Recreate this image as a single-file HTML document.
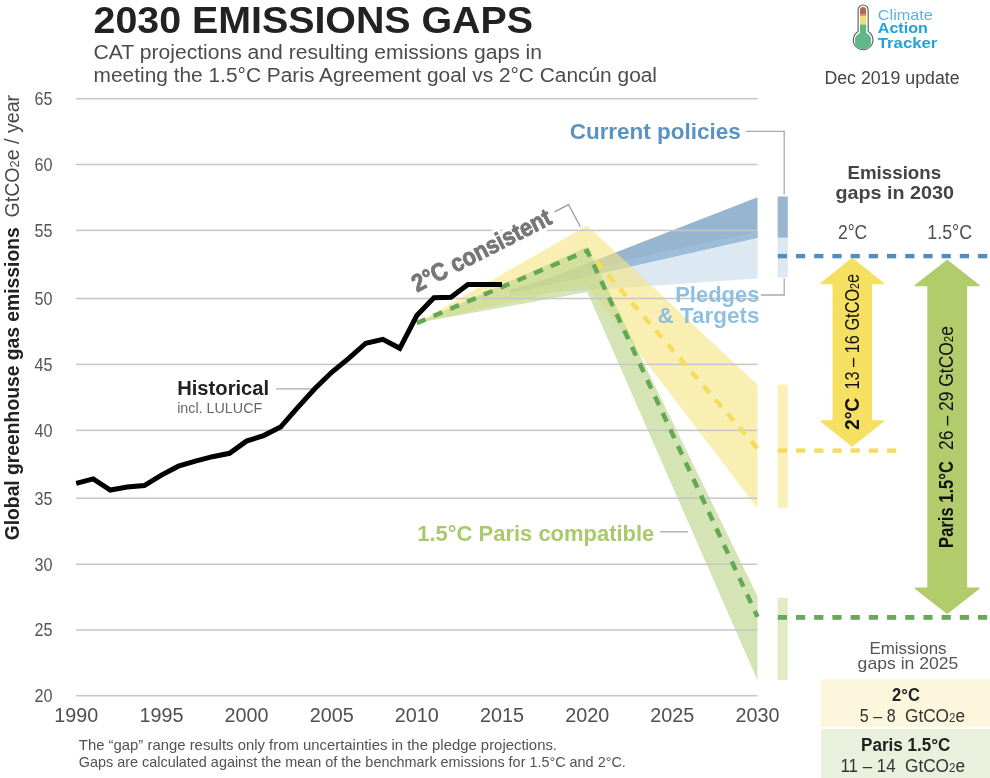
<!DOCTYPE html>
<html><head><meta charset="utf-8"><title>2030 Emissions Gaps</title>
<style>
html,body{margin:0;padding:0;background:#fff;}
body{width:990px;height:778px;overflow:hidden;}
svg{display:block;font-family:"Liberation Sans", sans-serif;will-change:transform;}
</style></head><body>
<svg width="990" height="778" viewBox="0 0 990 778">
<polygon points="510.0,290.0 550.0,278.0 757.5,197.2 757.5,238.0 550.0,285.0 510.0,293.0" fill="#98b5cf"/>
<polygon points="550.0,281.0 630.0,259.4 700.0,244.2 757.5,231.5 757.5,238.0 550.0,285.0" fill="#9cbdd9"/>
<polygon points="510.0,293.0 550.0,285.0 757.5,238.0 757.5,278.5 630.0,287.2 550.0,292.5 510.0,296.4" fill="#dce8f2"/>
<polygon points="416.8,323.1 587.2,225.6 757.5,384.8 757.5,508.2 587.2,285.1" fill="#f5e480" fill-opacity="0.6"/>
<polygon points="416.8,323.1 587.2,246.9 757.5,596.2 757.5,680.3 587.2,292.0" fill="#c0d68f" fill-opacity="0.67"/>
<rect x="76" y="97.95" width="681.5" height="1.5" fill="#c6c6c6"/>
<rect x="76" y="163.75" width="681.5" height="1.5" fill="#c6c6c6"/>
<rect x="76" y="229.65" width="681.5" height="1.5" fill="#c6c6c6"/>
<rect x="76" y="297.75" width="681.5" height="1.5" fill="#c6c6c6"/>
<rect x="76" y="363.65" width="681.5" height="1.5" fill="#c6c6c6"/>
<rect x="76" y="429.60" width="681.5" height="1.5" fill="#c6c6c6"/>
<rect x="76" y="497.45" width="681.5" height="1.5" fill="#c6c6c6"/>
<rect x="76" y="563.55" width="681.5" height="1.5" fill="#c6c6c6"/>
<rect x="76" y="629.25" width="681.5" height="1.5" fill="#c6c6c6"/>
<rect x="76" y="694.95" width="681.5" height="1.5" fill="#c6c6c6"/>
<text x="52.5" y="105.1" font-size="18" fill="#555" text-anchor="end" textLength="18" lengthAdjust="spacingAndGlyphs">65</text>
<text x="52.5" y="170.9" font-size="18" fill="#555" text-anchor="end" textLength="18" lengthAdjust="spacingAndGlyphs">60</text>
<text x="52.5" y="236.8" font-size="18" fill="#555" text-anchor="end" textLength="18" lengthAdjust="spacingAndGlyphs">55</text>
<text x="52.5" y="304.9" font-size="18" fill="#555" text-anchor="end" textLength="18" lengthAdjust="spacingAndGlyphs">50</text>
<text x="52.5" y="370.8" font-size="18" fill="#555" text-anchor="end" textLength="18" lengthAdjust="spacingAndGlyphs">45</text>
<text x="52.5" y="436.8" font-size="18" fill="#555" text-anchor="end" textLength="18" lengthAdjust="spacingAndGlyphs">40</text>
<text x="52.5" y="504.6" font-size="18" fill="#555" text-anchor="end" textLength="18" lengthAdjust="spacingAndGlyphs">35</text>
<text x="52.5" y="570.7" font-size="18" fill="#555" text-anchor="end" textLength="18" lengthAdjust="spacingAndGlyphs">30</text>
<text x="52.5" y="636.4" font-size="18" fill="#555" text-anchor="end" textLength="18" lengthAdjust="spacingAndGlyphs">25</text>
<text x="52.5" y="702.1" font-size="18" fill="#555" text-anchor="end" textLength="18" lengthAdjust="spacingAndGlyphs">20</text>
<text x="76.2" y="722.3" font-size="20" fill="#4f4f4f" text-anchor="middle" textLength="44" lengthAdjust="spacingAndGlyphs">1990</text>
<text x="161.4" y="722.3" font-size="20" fill="#4f4f4f" text-anchor="middle" textLength="44" lengthAdjust="spacingAndGlyphs">1995</text>
<text x="246.5" y="722.3" font-size="20" fill="#4f4f4f" text-anchor="middle" textLength="44" lengthAdjust="spacingAndGlyphs">2000</text>
<text x="331.7" y="722.3" font-size="20" fill="#4f4f4f" text-anchor="middle" textLength="44" lengthAdjust="spacingAndGlyphs">2005</text>
<text x="416.8" y="722.3" font-size="20" fill="#4f4f4f" text-anchor="middle" textLength="44" lengthAdjust="spacingAndGlyphs">2010</text>
<text x="502.0" y="722.3" font-size="20" fill="#4f4f4f" text-anchor="middle" textLength="44" lengthAdjust="spacingAndGlyphs">2015</text>
<text x="587.2" y="722.3" font-size="20" fill="#4f4f4f" text-anchor="middle" textLength="44" lengthAdjust="spacingAndGlyphs">2020</text>
<text x="672.3" y="722.3" font-size="20" fill="#4f4f4f" text-anchor="middle" textLength="44" lengthAdjust="spacingAndGlyphs">2025</text>
<text x="757.5" y="722.3" font-size="20" fill="#4f4f4f" text-anchor="middle" textLength="44" lengthAdjust="spacingAndGlyphs">2030</text>
<rect x="777.6" y="196.5" width="10.2" height="41.3" fill="#98b6d0"/>
<rect x="777.6" y="237.8" width="10.2" height="39.8" fill="#dce8f2"/>
<rect x="777.6" y="384.7" width="10.2" height="123.3" fill="#faf1b9"/>
<rect x="777.6" y="597.8" width="10.2" height="82.2" fill="#e1ebc6"/>
<rect x="777.8" y="253.9" width="9.2" height="4.4" fill="#4f8ebd"/><rect x="796.0" y="253.9" width="9.2" height="4.4" fill="#4f8ebd"/><rect x="814.2" y="253.9" width="9.2" height="4.4" fill="#4f8ebd"/><rect x="832.4" y="253.9" width="9.2" height="4.4" fill="#4f8ebd"/><rect x="850.6" y="253.9" width="9.2" height="4.4" fill="#4f8ebd"/><rect x="868.8" y="253.9" width="9.2" height="4.4" fill="#4f8ebd"/><rect x="887.0" y="253.9" width="9.2" height="4.4" fill="#4f8ebd"/><rect x="905.2" y="253.9" width="9.2" height="4.4" fill="#4f8ebd"/><rect x="923.4" y="253.9" width="9.2" height="4.4" fill="#4f8ebd"/><rect x="941.6" y="253.9" width="9.2" height="4.4" fill="#4f8ebd"/><rect x="959.8" y="253.9" width="9.2" height="4.4" fill="#4f8ebd"/><rect x="978.0" y="253.9" width="9.2" height="4.4" fill="#4f8ebd"/>
<rect x="777.8" y="448.4" width="9.2" height="4.4" fill="#f4dd5c"/><rect x="796.0" y="448.4" width="9.2" height="4.4" fill="#f4dd5c"/><rect x="814.2" y="448.4" width="9.2" height="4.4" fill="#f4dd5c"/><rect x="832.4" y="448.4" width="9.2" height="4.4" fill="#f4dd5c"/><rect x="850.6" y="448.4" width="9.2" height="4.4" fill="#f4dd5c"/><rect x="868.8" y="448.4" width="9.2" height="4.4" fill="#f4dd5c"/><rect x="887.0" y="448.4" width="9.2" height="4.4" fill="#f4dd5c"/>
<rect x="777.8" y="615.0" width="9.2" height="4.8" fill="#68a957"/><rect x="796.0" y="615.0" width="9.2" height="4.8" fill="#68a957"/><rect x="814.2" y="615.0" width="9.2" height="4.8" fill="#68a957"/><rect x="832.4" y="615.0" width="9.2" height="4.8" fill="#68a957"/><rect x="850.6" y="615.0" width="9.2" height="4.8" fill="#68a957"/><rect x="868.8" y="615.0" width="9.2" height="4.8" fill="#68a957"/><rect x="887.0" y="615.0" width="9.2" height="4.8" fill="#68a957"/><rect x="905.2" y="615.0" width="9.2" height="4.8" fill="#68a957"/><rect x="923.4" y="615.0" width="9.2" height="4.8" fill="#68a957"/><rect x="941.6" y="615.0" width="9.2" height="4.8" fill="#68a957"/><rect x="959.8" y="615.0" width="9.2" height="4.8" fill="#68a957"/><rect x="978.0" y="615.0" width="9.2" height="4.8" fill="#68a957"/>
<polyline points="587.2,250.8 757.5,448.5" fill="none" stroke="#f4dd5c" stroke-width="4.5" stroke-dasharray="9.5 8.8" stroke-dashoffset="4.8"/>
<polyline points="416.8,323.1 587.2,250.8 757.5,616.9" fill="none" stroke="#63a855" stroke-width="4.5" stroke-dasharray="9.5 8.7"/>
<polyline points="276,388.9 316.7,388.9" fill="none" stroke="#aaa" stroke-width="1.3"/>
<polyline points="76.2,483.3 93.2,478.9 110.3,490.0 127.3,487.1 144.3,485.6 161.4,475.1 178.4,466.2 195.4,461.1 212.5,456.7 229.5,453.3 246.5,441.1 263.6,435.6 280.6,427.1 297.6,407.6 314.7,388.7 331.7,372.3 348.7,358.4 365.8,343.2 382.8,339.4 399.8,348.3 416.8,315.5 433.9,297.8 450.9,297.3 467.9,284.4 485.0,284.4 502.0,284.4" fill="none" stroke="#000" stroke-width="5" stroke-linejoin="miter"/>
<polyline points="746.2,131.3 784.2,131.3 784.2,194.5" fill="none" stroke="#aaa" stroke-width="1.3"/>
<polyline points="784.2,278.5 784.2,295 760.8,295" fill="none" stroke="#aaa" stroke-width="1.3"/>
<polyline points="660,531.8 688,531.8" fill="none" stroke="#aaa" stroke-width="1.3"/>
<polyline points="554.5,211.9 568.5,204.6 580.4,226.7" fill="none" stroke="#999" stroke-width="1.2"/>
<text x="177.2" y="394.9" font-size="20" font-weight="bold" fill="#222" textLength="92" lengthAdjust="spacingAndGlyphs">Historical</text>
<text x="177.2" y="413" font-size="15" fill="#666" textLength="85" lengthAdjust="spacingAndGlyphs">incl. LULUCF</text>
<text x="569.7" y="139.1" font-size="22.3" font-weight="bold" fill="#5b92bf" textLength="171" lengthAdjust="spacingAndGlyphs">Current policies</text>
<text x="759.5" y="302.3" font-size="22.3" font-weight="bold" fill="#86bbe0" fill-opacity="0.92" text-anchor="end" textLength="84.3" lengthAdjust="spacingAndGlyphs">Pledges</text>
<text x="759.5" y="322.5" font-size="22.3" font-weight="bold" fill="#86bbe0" fill-opacity="0.92" text-anchor="end" textLength="102" lengthAdjust="spacingAndGlyphs">&amp; Targets</text>
<text x="417.3" y="540.8" font-size="22.3" font-weight="bold" fill="#a9c96b" textLength="237" lengthAdjust="spacingAndGlyphs">1.5°C Paris compatible</text>
<g transform="translate(417,292.5) rotate(-27)"><text x="0" y="0" font-size="24.5" font-weight="bold" fill="#fff" stroke="#fff" stroke-width="7" stroke-linejoin="round" textLength="153" lengthAdjust="spacingAndGlyphs">2°C consistent</text><text x="0" y="0" font-size="24.5" font-weight="bold" fill="#767676" stroke="#767676" stroke-width="0.9" textLength="153" lengthAdjust="spacingAndGlyphs">2°C consistent</text></g>
<g transform="translate(18.6,540.3) rotate(-90)"><text x="0" y="0" font-size="20.5" font-weight="bold" fill="#222" textLength="313" lengthAdjust="spacingAndGlyphs">Global greenhouse gas emissions</text></g>
<g transform="translate(18.6,217.5) rotate(-90)"><text x="0" y="0" font-size="20" fill="#4a4a4a" textLength="122.6" lengthAdjust="spacingAndGlyphs">GtCO<tspan font-size="13">2</tspan>e / year</text></g>
<text x="93.6" y="33.3" font-size="36" font-weight="bold" fill="#222" textLength="439.4" lengthAdjust="spacingAndGlyphs">2030 EMISSIONS GAPS</text>
<text x="93.6" y="59" font-size="19.5" fill="#4c4c4c" textLength="448.4" lengthAdjust="spacingAndGlyphs">CAT projections and resulting emissions gaps in</text>
<text x="93.6" y="81.8" font-size="19.5" fill="#4c4c4c" textLength="563.4" lengthAdjust="spacingAndGlyphs">meeting the 1.5°C Paris Agreement goal vs 2°C Cancún goal</text>
<text x="78.8" y="749.5" font-size="14.5" fill="#525252" textLength="478.2" lengthAdjust="spacingAndGlyphs">The “gap” range results only from uncertainties in the pledge projections.</text>
<text x="78.8" y="766.8" font-size="14.5" fill="#525252" textLength="547" lengthAdjust="spacingAndGlyphs">Gaps are calculated against the mean of the benchmark emissions for 1.5°C and 2°C.</text>
<g>
<path d="M858.1,31.5 L858.1,10.05 A5.05,5.05 0 0 1 868.2,10.05 L868.2,31.5 A9.8,9.8 0 1 1 858.1,31.5 Z" fill="#fff" stroke="#5a5a5a" stroke-width="1.1"/>
<clipPath id="th"><path d="M860,33 L860,10.1 A3.1,3.1 0 0 1 866.2,10.1 L866.2,33 A8.4,8.4 0 1 1 860,33 Z"/></clipPath>
<g clip-path="url(#th)">
<rect x="855" y="5" width="16" height="9" fill="#b4685a"/>
<rect x="855" y="14" width="16" height="2.5" fill="#d39a62"/>
<rect x="855" y="16.5" width="16" height="8" fill="#efe070"/>
<rect x="855" y="24.5" width="16" height="30" fill="#5fb986"/>
</g></g>
<text x="877.8" y="20.2" font-size="15" fill="#5ab4de" textLength="55.1" lengthAdjust="spacingAndGlyphs">Climate</text>
<text x="877.8" y="33.3" font-size="15" font-weight="bold" fill="#25a0d8" textLength="50" lengthAdjust="spacingAndGlyphs">Action</text>
<text x="877.8" y="47.5" font-size="15" font-weight="bold" fill="#25a0d8" textLength="59.6" lengthAdjust="spacingAndGlyphs">Tracker</text>
<text x="824.4" y="83.7" font-size="17.5" fill="#444" textLength="135.2" lengthAdjust="spacingAndGlyphs">Dec 2019 update</text>
<text x="894.3" y="179.1" font-size="19" font-weight="bold" fill="#444" text-anchor="middle" textLength="93.6" lengthAdjust="spacingAndGlyphs">Emissions</text>
<text x="894.7" y="199.3" font-size="19" font-weight="bold" fill="#444" text-anchor="middle" textLength="118.5" lengthAdjust="spacingAndGlyphs">gaps in 2030</text>
<text x="852.6" y="238.7" font-size="20" fill="#4f4f4f" text-anchor="middle" textLength="29.3" lengthAdjust="spacingAndGlyphs">2°C</text>
<text x="949.7" y="238.7" font-size="20" fill="#4f4f4f" text-anchor="middle" textLength="44.7" lengthAdjust="spacingAndGlyphs">1.5°C</text>
<polygon points="852.2,258.5 883.5,283.5 871.2,283.5 871.2,421.0 883.5,421.0 852.2,446.0 821.0,421.0 833.2,421.0 833.2,283.5 821.0,283.5" fill="#f5e062" stroke="#f5e062" stroke-width="1.5" stroke-linejoin="round"/>
<polygon points="947.2,260.5 979.1,285.5 966.4,285.5 966.4,588.2 979.1,588.2 947.2,613.2 915.3,588.2 928.0,588.2 928.0,285.5 915.3,285.5" fill="#b2cb6b" stroke="#b2cb6b" stroke-width="1.5" stroke-linejoin="round"/>
<g transform="translate(859,430.1) rotate(-90)"><text x="0" y="0" font-size="20" font-weight="bold" fill="#111" textLength="32.4" lengthAdjust="spacingAndGlyphs">2°C</text><text x="40.5" y="0" font-size="20" fill="#111" textLength="115.7" lengthAdjust="spacingAndGlyphs">13 – 16 GtCO<tspan font-size="13">2</tspan>e</text></g>
<g transform="translate(953.3,547.9) rotate(-90)"><text x="0" y="0" font-size="20" font-weight="bold" fill="#111" textLength="86.8" lengthAdjust="spacingAndGlyphs">Paris 1.5°C</text><text x="98" y="0" font-size="20" fill="#111" textLength="123.8" lengthAdjust="spacingAndGlyphs">26 – 29 GtCO<tspan font-size="13">2</tspan>e</text></g>
<text x="908" y="654.2" font-size="17" fill="#555" text-anchor="middle" textLength="77.2" lengthAdjust="spacingAndGlyphs">Emissions</text>
<text x="908" y="669" font-size="17" fill="#555" text-anchor="middle" textLength="100.8" lengthAdjust="spacingAndGlyphs">gaps in 2025</text>
<rect x="821" y="679.1" width="169" height="47.6" fill="#fcf6dc"/>
<rect x="821" y="728.9" width="169" height="49.1" fill="#e9f0dc"/>
<text x="906" y="701.3" font-size="18" font-weight="bold" fill="#222" text-anchor="middle" textLength="27.8" lengthAdjust="spacingAndGlyphs">2°C</text>
<text x="895.6" y="722.3" font-size="18" fill="#333" text-anchor="end" textLength="35.8" lengthAdjust="spacingAndGlyphs">5 – 8</text>
<text x="905" y="722.3" font-size="18" fill="#333" textLength="60" lengthAdjust="spacingAndGlyphs">GtCO<tspan font-size="12">2</tspan>e</text>
<text x="905.7" y="751.4" font-size="18" font-weight="bold" fill="#222" text-anchor="middle" textLength="89.4" lengthAdjust="spacingAndGlyphs">Paris 1.5°C</text>
<text x="895.6" y="772.3" font-size="18" fill="#333" text-anchor="end" textLength="55.2" lengthAdjust="spacingAndGlyphs">11 – 14</text>
<text x="905" y="772.3" font-size="18" fill="#333" textLength="60" lengthAdjust="spacingAndGlyphs">GtCO<tspan font-size="12">2</tspan>e</text>
</svg>
</body></html>
